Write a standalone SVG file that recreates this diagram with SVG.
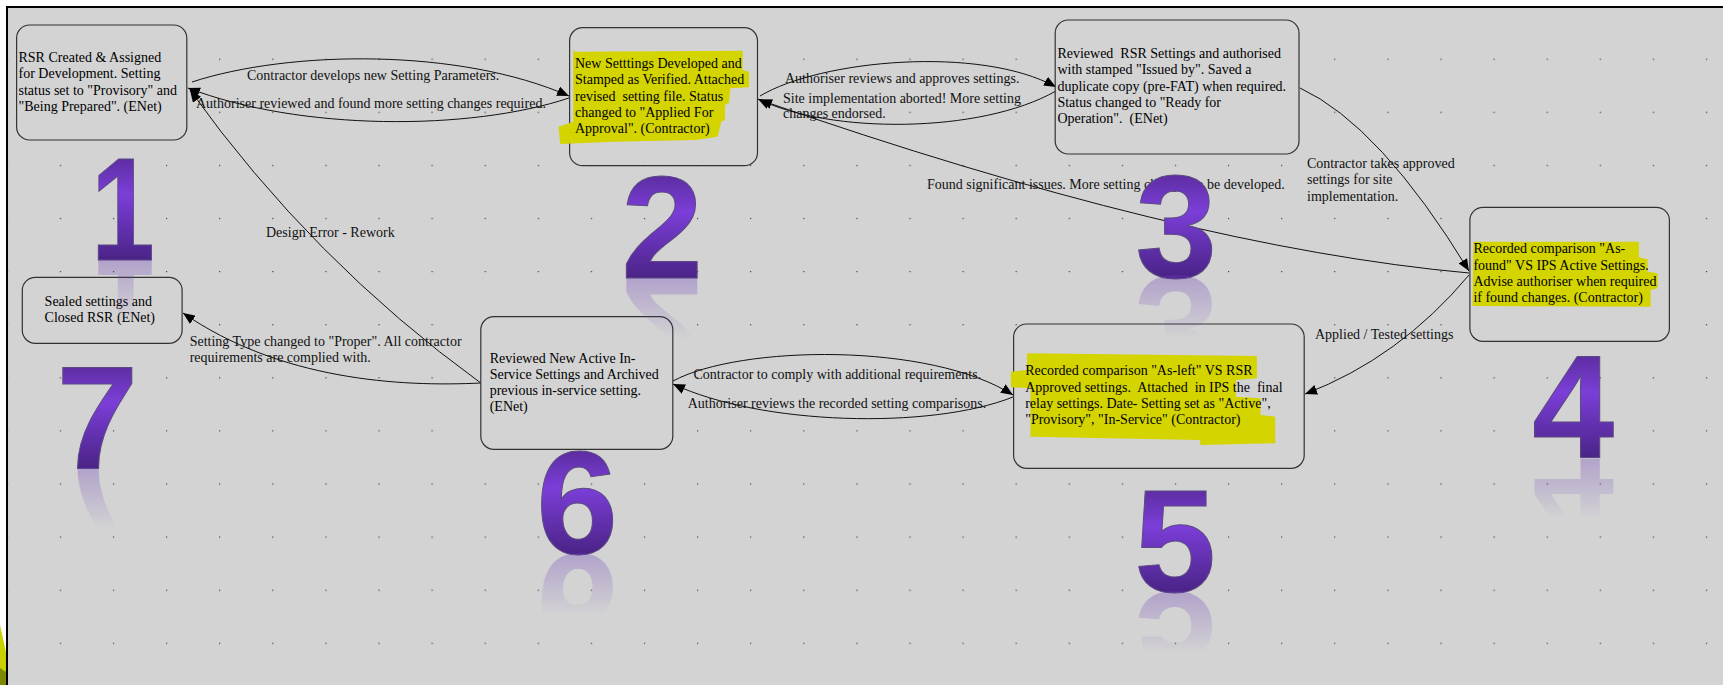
<svg xmlns="http://www.w3.org/2000/svg" width="1723" height="685" viewBox="0 0 1723 685">
<style>
.t{font-family:"Liberation Serif","Times New Roman",serif;font-size:14px;fill:#000;white-space:pre}
.lb{font-family:"Liberation Serif","Times New Roman",serif;font-size:14px;fill:#111;white-space:pre}
.box{fill:#d3d3d3;stroke:#333;stroke-width:1.2}
.hl{fill:#d4d400}
.c{fill:none;stroke:#111;stroke-width:1}
.d{font-family:"Liberation Sans",Arial,sans-serif;font-weight:bold;font-size:147px;text-anchor:middle}
.dm{fill:url(#dg);stroke:#5b4a80;stroke-width:1}
.dr{fill:url(#rg)}
</style>
<defs>
<pattern id="grid" patternUnits="userSpaceOnUse" x="59.8" y="58.6" width="53.1" height="53.1">
<rect x="0" y="0" width="1.2" height="1.2" fill="#444"/>
</pattern>
<marker id="ah" viewBox="0 0 12 10" refX="12" refY="5" markerWidth="12" markerHeight="10" markerUnits="userSpaceOnUse" orient="auto">
<path d="M0,0 L12,5 L0,10 z" fill="#000"/>
</marker>
<linearGradient id="dg" gradientUnits="userSpaceOnUse" x1="0" y1="-106" x2="0" y2="0">
<stop offset="0" stop-color="#5a2c9c"/>
<stop offset="0.38" stop-color="#7b3ed8"/>
<stop offset="1" stop-color="#4a2386"/>
</linearGradient>
<linearGradient id="rg" gradientUnits="userSpaceOnUse" x1="0" y1="-106" x2="0" y2="0">
<stop offset="0" stop-color="#6a3ab8" stop-opacity="0"/>
<stop offset="0.42" stop-color="#6a3ab8" stop-opacity="0"/>
<stop offset="1" stop-color="#6a3ab8" stop-opacity="0.32"/>
</linearGradient>
</defs>

<g id="background">
<rect x="0" y="0" width="1723" height="685" fill="#fff"/>
<rect x="7" y="7" width="1716" height="678" fill="#d3d3d3"/>
<rect x="8" y="8" width="1715" height="677" fill="url(#grid)"/>
<line x1="7" y1="6" x2="7" y2="685" stroke="#000" stroke-width="2"/>
<line x1="6" y1="7" x2="1723" y2="7" stroke="#000" stroke-width="2"/>
<polygon points="0,625 6,652 6,685 0,685" fill="#c8d000"/>
<polygon points="0,668 6,672 6,685 0,685" fill="#7d8a00"/>
</g>

<g id="connectors">
<path class="c" d="M192,82 C290,50 460,48 569,96" marker-end="url(#ah)"/>
<path class="c" d="M569,98 C470,131 300,131 188,88" marker-end="url(#ah)"/>
<path class="c" d="M480.8,383 Q312,260.5 190,90" marker-end="url(#ah)"/>
<path class="c" d="M760,96 C820,60 980,45 1056,87" marker-end="url(#ah)"/>
<path class="c" d="M1056,91 C980,134 830,134 758,99" marker-end="url(#ah)"/>
<path class="c" d="M1469,273 Q1182.7,247.2 760,100" marker-end="url(#ah)"/>
<path class="c" d="M1300,88 Q1380,125 1469,271" marker-end="url(#ah)"/>
<path class="c" d="M1469,275 Q1399.5,358 1305,394" marker-end="url(#ah)"/>
<path class="c" d="M673,381 C740,345 930,342 1013,395" marker-end="url(#ah)"/>
<path class="c" d="M1013,397 C930,430 760,425 673,384" marker-end="url(#ah)"/>
<path class="c" d="M480.8,383 C400,387 280,380 183,313" marker-end="url(#ah)"/>
</g>

<g id="edge-labels">
<text class="lb" x="247" y="80">Contractor develops new Setting Parameters.</text>
<text class="lb" x="196" y="107.5">Authoriser reviewed and found more setting changes required.</text>
<text class="lb" x="266" y="236.5">Design Error - Rework</text>
<text class="lb" x="785" y="82.5">Authoriser reviews and approves settings.</text>
<text class="lb" x="783" y="102.5">Site implementation aborted! More setting</text>
<text class="lb" x="783" y="118">changes endorsed.</text>
<text class="lb" x="927" y="189">Found significant issues. More setting changes to be developed.</text>
<text class="lb" x="1307" y="168">Contractor takes approved</text>
<text class="lb" x="1307" y="184">settings for site</text>
<text class="lb" x="1307" y="200.5">implementation.</text>
<text class="lb" x="1315" y="339">Applied / Tested settings</text>
<text class="lb" x="693.5" y="379">Contractor to comply with additional requirements.</text>
<text class="lb" x="687.7" y="408">Authoriser reviews the recorded setting comparisons.</text>
<text class="lb" x="189.7" y="345.5">Setting Type changed to "Proper". All contractor</text>
<text class="lb" x="189.7" y="361.5">requirements are complied with.</text>
</g>

<g id="node1">
<rect class="box" x="16.6" y="25" width="170.2" height="115" rx="13"/>
<text class="t" x="18.5" y="61.5">RSR Created &amp; Assigned</text>
<text class="t" x="18.5" y="78">for Development. Setting</text>
<text class="t" x="18.5" y="94.5">status set to "Provisory" and</text>
<text class="t" x="18.5" y="111">"Being Prepared". (ENet)</text>
</g>

<g id="node2">
<rect class="box" x="569.6" y="27.7" width="187.9" height="138" rx="13"/>
<polygon class="hl" points="575.1,51.7 742.7,50.7 742.7,70 749,71.7 749,87.3 730.5,88.3 728.7,103.3 725,105 725,120 721.3,121.7 717.6,136.7 695.4,140 614,141.7 560.3,144 558.5,126.7 573.3,121.7 573.3,50"/>
<text class="t" x="575" y="67.5">New Setttings Developed and</text>
<text class="t" x="575" y="84">Stamped as Verified. Attached</text>
<text class="t" x="575" y="100.5">revised  setting file. Status</text>
<text class="t" x="575" y="117">changed to "Applied For</text>
<text class="t" x="575" y="133">Approval". (Contractor)</text>
</g>

<g id="node3">
<rect class="box" x="1055.2" y="20" width="243.8" height="134" rx="13"/>
<text class="t" x="1057.4" y="58">Reviewed  RSR Settings and authorised</text>
<text class="t" x="1057.4" y="74">with stamped "Issued by". Saved a</text>
<text class="t" x="1057.4" y="90.5">duplicate copy (pre-FAT) when required.</text>
<text class="t" x="1057.4" y="107">Status changed to "Ready for</text>
<text class="t" x="1057.4" y="123">Operation".  (ENet)</text>
</g>

<g id="node4">
<rect class="box" x="1469.9" y="207.3" width="199.5" height="134" rx="13"/>
<polygon class="hl" points="1473.4,241.7 1638.9,241.7 1638.9,257.3 1647.6,259.3 1647.6,271.7 1657.6,273.3 1657.6,288.3 1650.6,290 1650.6,306.7 1472.5,306"/>
<text class="t" x="1473.4" y="253">Recorded comparison "As-</text>
<text class="t" x="1473.4" y="270">found" VS IPS Active Settings.</text>
<text class="t" x="1473.4" y="286">Advise authoriser when required</text>
<text class="t" x="1473.4" y="301.5">if found changes. (Contractor)</text>
</g>

<g id="node5">
<rect class="box" x="1013.6" y="324" width="290.6" height="144.3" rx="13"/>
<polygon class="hl" points="1027,353.3 1256.9,356 1256.9,378.3 1235.9,380 1235.9,396.7 1260.4,398.3 1260.4,415 1275.2,416.7 1275.2,443.3 1200.2,445 1200.2,440 1030.5,436.7 1030.5,388.3 1010.9,387.3 1010.9,371.7 1027,370"/>
<text class="t" x="1025.2" y="375">Recorded comparison "As-left" VS RSR</text>
<text class="t" x="1025.2" y="392">Approved settings.  Attached  in IPS the  final</text>
<text class="t" x="1025.2" y="408">relay settings. Date- Setting set as "Active",</text>
<text class="t" x="1025.2" y="424">"Provisory", "In-Service" (Contractor)</text>
</g>

<g id="node6">
<rect class="box" x="480.8" y="316.7" width="192" height="132.6" rx="13"/>
<text class="t" x="489.7" y="362.5">Reviewed New Active In-</text>
<text class="t" x="489.7" y="378.8">Service Settings and Archived</text>
<text class="t" x="489.7" y="395.1">previous in-service setting.</text>
<text class="t" x="489.7" y="411.4">(ENet)</text>
</g>

<g id="node7">
<rect class="box" x="22.3" y="277.3" width="159.8" height="66" rx="13"/>
<text class="t" x="44.6" y="306">Sealed settings and</text>
<text class="t" x="44.6" y="322">Closed RSR (ENet)</text>
</g>

<g id="step-numbers">
<g transform="translate(123,260) scale(0.78,1)"><text class="d dm" x="0" y="0">1</text><text class="d dr" x="0" y="0" transform="scale(1,-1)">1</text></g>
<g transform="translate(662,278)"><text class="d dm" x="0" y="0">2</text><text class="d dr" x="0" y="0" transform="scale(1,-1)">2</text></g>
<g transform="translate(1176,277)"><text class="d dm" x="0" y="0">3</text><text class="d dr" x="0" y="0" transform="scale(1,-1)">3</text></g>
<g transform="translate(1573,458)"><text class="d dm" x="0" y="0">4</text><text class="d dr" x="0" y="0" transform="scale(1,-1)">4</text></g>
<g transform="translate(1175,592)"><text class="d dm" x="0" y="0">5</text><text class="d dr" x="0" y="0" transform="scale(1,-1)">5</text></g>
<g transform="translate(577,554)"><text class="d dm" x="0" y="0">6</text><text class="d dr" x="0" y="0" transform="scale(1,-1)">6</text></g>
<g transform="translate(97.3,468)"><text class="d dm" x="0" y="0">7</text><text class="d dr" x="0" y="0" transform="scale(1,-1)">7</text></g>
</g>
</svg>
